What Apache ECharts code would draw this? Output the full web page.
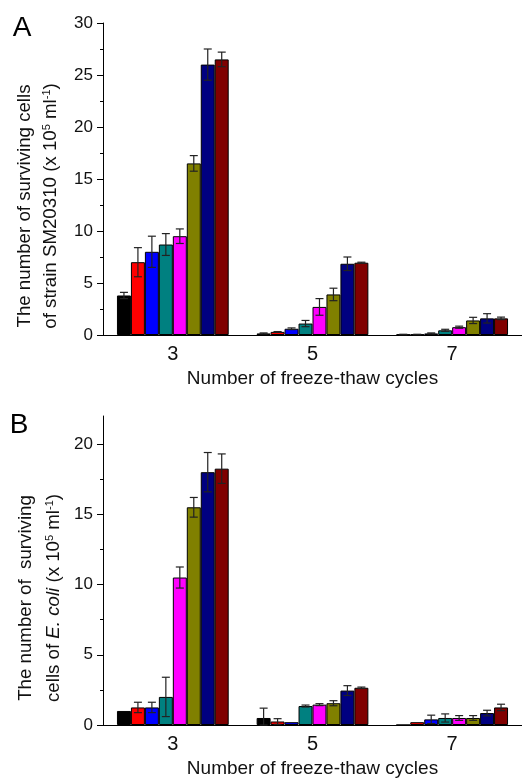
<!DOCTYPE html>
<html>
<head>
<meta charset="utf-8">
<script src="https://cdn.jsdelivr.net/npm/echarts@6/dist/echarts.min.js"></script>
<style>
html, body { margin: 0; padding: 0; background: #fff; }
#chart { width: 522px; height: 779px; }
</style>
</head>
<body>
<div id="chart"></div>
<script>
// freeze-thaw cycles (x categories)
const cycles = ['3', '5', '7']
const barColors = ['#000000', '#ff0000', '#0000ff', '#008080', '#ff00ff', '#808000', '#000080', '#800000']

// panel A: strain SM20310, one array per cycle group, 8 treatments each
const meanA3 = [3.8, 7.0, 8.0, 8.7, 9.5, 16.5, 26.0, 26.5]
const errA3 = [0.3, 1.4, 1.5, 1.05, 0.7, 0.75, 1.5, 0.7]
const meanA5 = [0.15, 0.3, 0.6, 1.1, 2.7, 3.9, 6.85, 6.95]
const errA5 = [0.05, 0.03, 0.08, 0.3, 0.8, 0.6, 0.65, 0.05]
const meanA7 = [0.05, 0.05, 0.15, 0.45, 0.75, 1.4, 1.6, 1.6]
const errA7 = [0.02, 0.02, 0.05, 0.1, 0.1, 0.3, 0.45, 0.12]

// panel B: E. coli
const meanB3 = [1.0, 1.25, 1.25, 2.0, 10.5, 15.5, 18.0, 18.25]
const errB3 = [0, 0.37, 0.37, 1.4, 0.75, 0.7, 1.4, 1.05]
const meanB5 = [0.5, 0.25, 0.2, 1.35, 1.45, 1.55, 2.45, 2.65]
const errB5 = [0.7, 0.2, 0, 0.07, 0.07, 0.18, 0.35, 0.05]
const meanB7 = [0, 0.2, 0.4, 0.5, 0.5, 0.5, 0.85, 1.25]
const errB7 = [0, 0, 0.3, 0.29, 0.17, 0.17, 0.2, 0.23]

// axis ticks
const majorA = [0, 5, 10, 15, 20, 25, 30]
const minorA = [2.5, 7.5, 12.5, 17.5, 22.5, 27.5]
const majorB = [0, 5, 10, 15, 20]
const minorB = [2.5, 7.5, 12.5, 17.5]

const FONT = '"Liberation Sans", Arial, sans-serif'
const TXT = '#111'

function barSeries (groups, gridIdx) {
  let out = []
  for (let s = 0; s < 8; s++) {
    out.push({
      type: 'bar',
      xAxisIndex: gridIdx,
      yAxisIndex: gridIdx * 2,
      barGap: '0%',
      barCategoryGap: '20%',
      itemStyle: { color: barColors[s], borderColor: '#000', borderWidth: 1 },
      data: groups.map(g => g[s])
    })
  }
  return out
}

function errData (means, errs) {
  let d = []
  means.forEach((g, c) => {
    g.forEach((m, s) => {
      let e = errs[c][s]
      if (e > 0) d.push([c, s, Math.max(0, m - e), m + e])
    })
  })
  return d
}

// error bar drawn over the s-th bar of a category
function renderErr (params, api) {
  let cat = api.value(0)
  let s = api.value(1)
  let lo = api.coord([cat, api.value(2)])
  let hi = api.coord([cat, api.value(3)])
  let band = api.size([1, 0])[0]
  let w = band * 0.8 / 8
  let x = lo[0] + (s - 3.5) * w
  let cap = 4
  let st = { stroke: '#222', lineWidth: 1.2 }
  return {
    type: 'group',
    children: [
      { type: 'line', shape: { x1: x, y1: lo[1], x2: x, y2: hi[1] }, style: st },
      { type: 'line', shape: { x1: x - cap, y1: hi[1], x2: x + cap, y2: hi[1] }, style: st },
      { type: 'line', shape: { x1: x - cap, y1: lo[1], x2: x + cap, y2: lo[1] }, style: st }
    ]
  }
}

function xAxisOf (gridIdx) {
  return {
    type: 'category',
    gridIndex: gridIdx,
    data: cycles,
    name: 'Number of freeze-thaw cycles',
    nameLocation: 'middle',
    nameGap: 34,
    nameTextStyle: { fontFamily: FONT, fontSize: 19, color: TXT },
    axisLine: { lineStyle: { color: '#000', width: 1 } },
    axisTick: { alignWithLabel: true, length: 5, lineStyle: { color: '#000' } },
    axisLabel: { fontFamily: FONT, fontSize: 20, color: TXT, margin: 9 },
    splitLine: { show: false }
  }
}

function yAxesOf (gridIdx, max, major, minor) {
  return [{
    type: 'value',
    gridIndex: gridIdx,
    min: 0,
    max: max,
    interval: 5,
    axisLine: { show: true, lineStyle: { color: '#000', width: 1 } },
    axisTick: { show: true, length: 6, customValues: major, lineStyle: { color: '#000' } },
    axisLabel: { fontFamily: FONT, fontSize: 17, color: TXT, margin: 10, customValues: major },
    splitLine: { show: false }
  }, {
    type: 'value',
    gridIndex: gridIdx,
    min: 0,
    max: max,
    interval: 5,
    position: 'left',
    axisLine: { show: false },
    axisTick: { show: true, length: 3, customValues: minor, lineStyle: { color: '#000' } },
    axisLabel: { show: false },
    splitLine: { show: false }
  }]
}

const richBase = {
  sup: { fontFamily: FONT, fontSize: 11, fill: TXT, padding: [0, 0, 9, 0] },
  it: { fontFamily: FONT, fontSize: 18.7, fill: TXT, fontStyle: 'italic' }
}

function yTitle (x, y, text, lh) {
  return {
    type: 'text',
    x: x,
    y: y,
    rotation: Math.PI / 2,
    style: {
      text: text,
      fontFamily: FONT,
      fontSize: 18.7,
      lineHeight: lh,
      fill: TXT,
      align: 'center',
      verticalAlign: 'middle',
      rich: richBase
    }
  }
}

let chart = echarts.init(document.getElementById('chart'), null, { renderer: 'canvas' })

chart.setOption({
  animation: false,
  backgroundColor: '#fff',
  grid: [
    { left: 103, right: 0, top: 23, height: 312 },
    { left: 103, right: 0, top: 416, height: 312 }
  ],
  xAxis: [xAxisOf(0), xAxisOf(1)],
  yAxis: yAxesOf(0, 30, majorA, minorA).concat(yAxesOf(1, 22, majorB, minorB)),
  graphic: [
    { type: 'text', x: 22, y: 28, style: { text: 'A', fontFamily: FONT, fontSize: 28, fill: '#000', align: 'center', verticalAlign: 'middle' } },
    { type: 'text', x: 19, y: 425, style: { text: 'B', fontFamily: FONT, fontSize: 28, fill: '#000', align: 'center', verticalAlign: 'middle' } },
    yTitle(38, 206, 'The number of surviving cells\nof strain SM20310 (x 10{sup|5} ml{sup|-1})', 26),
    yTitle(40, 598, 'The number of  surviving\ncells of {it|E. coli} (x 10{sup|5} ml{sup|-1})', 28)
  ],
  series: barSeries([meanA3, meanA5, meanA7], 0)
    .concat(barSeries([meanB3, meanB5, meanB7], 1))
    .concat([
      {
        type: 'custom',
        xAxisIndex: 0,
        yAxisIndex: 0,
        z: 5,
        renderItem: renderErr,
        encode: { x: 0, y: [2, 3] },
        data: errData([meanA3, meanA5, meanA7], [errA3, errA5, errA7])
      },
      {
        type: 'custom',
        xAxisIndex: 1,
        yAxisIndex: 2,
        z: 5,
        renderItem: renderErr,
        encode: { x: 0, y: [2, 3] },
        data: errData([meanB3, meanB5, meanB7], [errB3, errB5, errB7])
      }
    ])
})
</script>
</body>
</html>
